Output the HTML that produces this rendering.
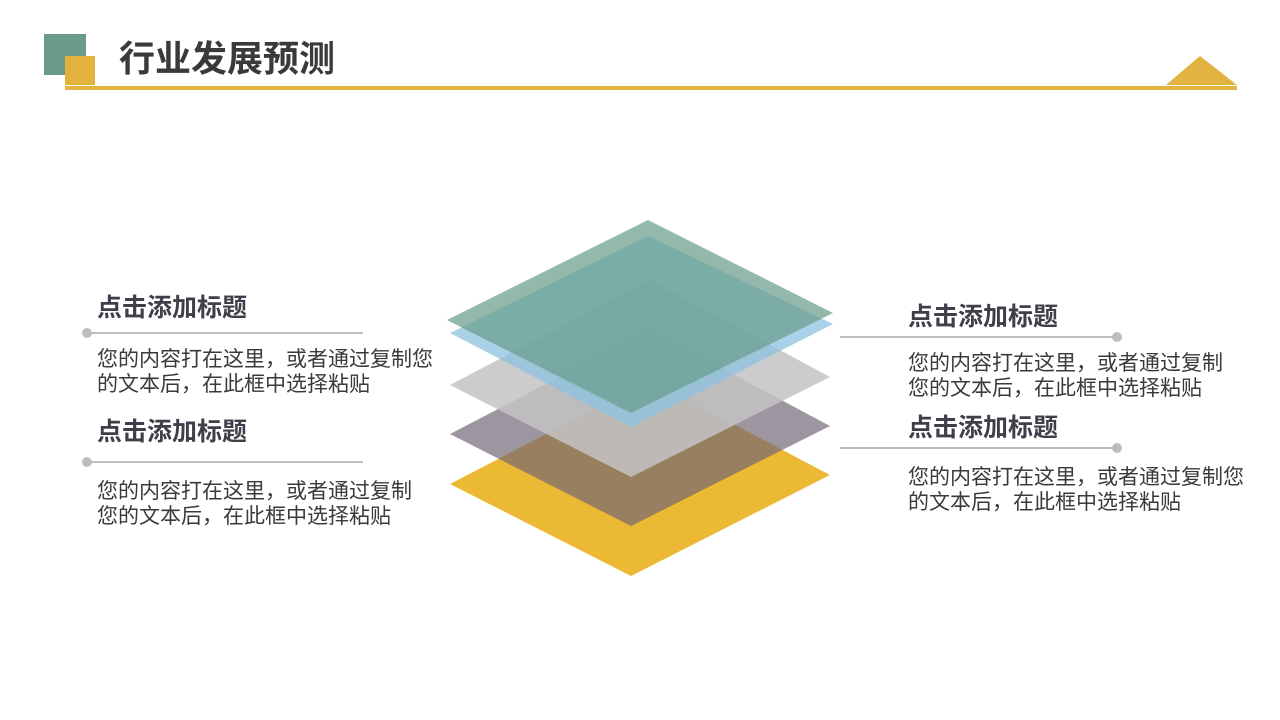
<!DOCTYPE html>
<html><head><meta charset="utf-8"><style>
body{margin:0;width:1280px;height:720px;background:#fff;position:relative;overflow:hidden;font-family:"Liberation Sans","Noto Sans CJK SC",sans-serif}
.a{position:absolute;white-space:nowrap}
.t{font-size:25px;font-weight:bold;color:#3f3f4a;line-height:30px}
.b{font-size:21px;color:#3a3a3a;line-height:25px}
</style></head><body>
<div class="a" style="left:44px;top:34px;width:42px;height:41px;background:#6b9a88"></div>
<div class="a" style="left:65px;top:56px;width:30px;height:29px;background:#e3b23c"></div>
<div class="a" style="left:119px;top:37px;font-size:36px;font-weight:bold;color:#3a3a3a;line-height:44px">行业发展预测</div>
<svg class="a" style="left:0;top:0" width="1280" height="720">
<rect x="65" y="86" width="1172" height="4" fill="#e2b340"/>
<polygon points="1166,85 1200,56 1237,85" fill="#e2b340"/>
<polygon points="450,484 650,380 830,475 631,576" fill="#ecb935"/>
<polygon points="450,434 650,330 830,426 631,526" fill="rgb(110,100,115)" fill-opacity="0.68"/>
<polygon points="450,385 650,280 830,377 631,477" fill="rgb(195,195,195)" fill-opacity="0.85"/>
<polygon points="450,333 648,236 833,324 631,427" fill="rgb(140,195,225)" fill-opacity="0.75"/>
<polygon points="447,320 648,220 833,313 631,413" fill="rgb(105,158,140)" fill-opacity="0.72"/>
<g stroke="#bdbdbd" stroke-width="2"><line x1="87" y1="333" x2="363" y2="333"/><line x1="87" y1="462" x2="363" y2="462"/><line x1="840" y1="337" x2="1117" y2="337"/><line x1="840" y1="448" x2="1117" y2="448"/></g>
<g fill="#bdbdbd"><circle cx="87" cy="333" r="5"/><circle cx="87" cy="462" r="5"/><circle cx="1117" cy="337" r="5"/><circle cx="1117" cy="448" r="5"/></g>
</svg>
<div class="a t" style="left:97px;top:293px">点击添加标题</div>
<div class="a b" style="left:97px;top:347px">您的内容打在这里，或者通过复制您<br>的文本后，在此框中选择粘贴</div>
<div class="a t" style="left:97px;top:417px">点击添加标题</div>
<div class="a b" style="left:97px;top:479px">您的内容打在这里，或者通过复制<br>您的文本后，在此框中选择粘贴</div>
<div class="a t" style="left:908px;top:302px">点击添加标题</div>
<div class="a b" style="left:908px;top:351px">您的内容打在这里，或者通过复制<br>您的文本后，在此框中选择粘贴</div>
<div class="a t" style="left:908px;top:413px">点击添加标题</div>
<div class="a b" style="left:908px;top:465px">您的内容打在这里，或者通过复制您<br>的文本后，在此框中选择粘贴</div>
</body></html>
